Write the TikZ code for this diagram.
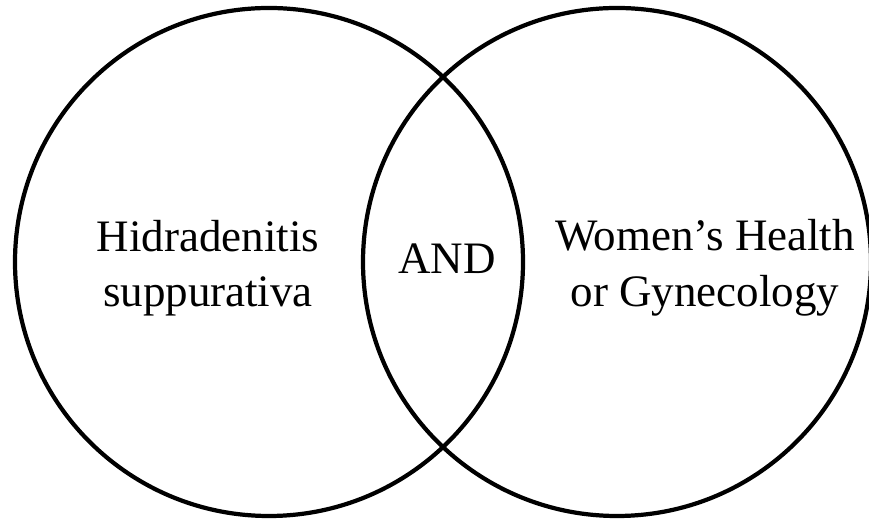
\documentclass[tikz,border=0pt]{standalone}
\usepackage{fontspec}
\setmainfont{Liberation Serif}
\usepackage{xcolor}
\usepackage{tikz}
\usetikzlibrary{positioning}

\begin{document}
\begin{tikzpicture}
        \tikzset{
            every node/.style={
                align=center,
                text centered,
                font=\fontsize{12.8}{15.8}\selectfont,
            },
            setcircle/.style={
                circle,
                draw,
                line width=1.2pt,
                minimum size=5.08cm,
                inner sep=0pt,
            }
        }
        \useasboundingbox (0, 0) rectangle (8.69, 5.20);

        \node[setcircle] (left) at (2.69, 2.58) {};
        \node[setcircle] (right) at (6.17, 2.58) {};

        \node (hs) at (2.08, 2.52) {Hidradenitis\\suppurativa};
        \node (and) at (4.47, 2.61) {AND};
        \node (wh) at (7.05, 2.52) {Women's Health\\or Gynecology};
    \end{tikzpicture}
\end{document}
